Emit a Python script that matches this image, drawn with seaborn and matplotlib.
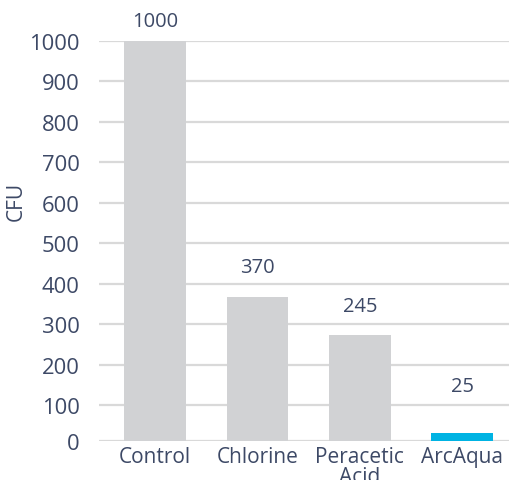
import matplotlib
matplotlib.use("Agg")
import matplotlib.pyplot as plt
import seaborn as sns
import pandas as pd

categories = ["Control", "Chlorine", "Peracetic\nAcid", "ArcAqua"]
bar_values = [1000, 366, 273, 31]
value_labels = ["1000", "370", "245", "25"]
label_offsets_pt = [14.4, 21.8, 21.0, 33.8]
bar_colors = ["#d1d2d4", "#d1d2d4", "#d1d2d4", "#00b3e3"]
ytick_values = [11.7, 100, 200, 300, 400, 500, 600, 700, 800, 900, 1000]
ytick_labels = ["0", "100", "200", "300", "400", "500", "600", "700", "800", "900", "1000"]

sns.set_theme(style="white")
plt.rcParams["font.family"] = ["Open Sans", "DejaVu Sans"]
text_color = "#3d4966"

df = pd.DataFrame({"cat": categories, "val": bar_values})

fig = plt.figure(figsize=(5.09, 4.81), dpi=100)
ax = fig.add_axes([99 / 509, (481 - 441.7) / 481, 1 - 99 / 509, (441.7 - 42) / 481])

sns.barplot(data=df, x="cat", y="val", hue="cat", palette=bar_colors,
            width=0.6, legend=False, ax=ax, saturation=1, zorder=3, linewidth=0)

ax.set_ylim(11.7, 1000)
ax.set_xlim(-0.547, 3.457)
ax.set_yticks(ytick_values)
ax.set_yticklabels(ytick_labels)
ax.yaxis.grid(True, color="#d9d9d9", linewidth=1.6, zorder=0)
ax.set_axisbelow(True)
for s in ax.spines.values():
    s.set_visible(False)
ax.tick_params(axis="both", length=0, colors=text_color)
ax.tick_params(axis="y", labelsize=15.8, pad=14)
ax.tick_params(axis="x", labelsize=15, pad=4)
for t in ax.get_xticklabels():
    t.set_linespacing(0.9)
ax.set_xlabel("")
ax.set_ylabel("CFU", fontsize=15, color=text_color, va="center")
ax.yaxis.set_label_coords((16.5 - 99) / 410, (441.7 - 201) / 399.7)

for i, (v, lab, off) in enumerate(zip(bar_values, value_labels, label_offsets_pt)):
    ax.annotate(lab, xy=(i, v), xytext=(0, off), textcoords="offset points",
                ha="center", va="center", fontsize=14.5, color=text_color,
                annotation_clip=False)

fig.savefig("out.png", dpi=100)
